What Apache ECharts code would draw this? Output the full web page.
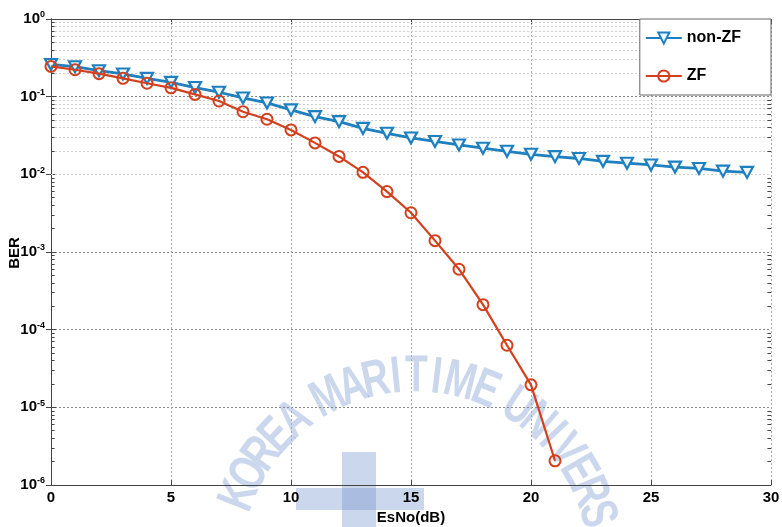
<!DOCTYPE html>
<html>
<head>
<meta charset="utf-8">
<script src="https://cdn.jsdelivr.net/npm/echarts@6/dist/echarts.min.js"></script>
<style>html,body{margin:0;padding:0;background:#fff;}#c{width:782px;height:527px;}</style>
</head>
<body>
<div id="c"></div>
<script>
// ---- data ----
var esnoNonZF = [0,1,2,3,4,5,6,7,8,9,10,11,12,13,14,15,16,17,18,19,20,21,22,23,24,25,26,27,28,29];
var berNonZF = [0.26,0.243,0.216,0.196,0.172,0.153,0.131,0.114,0.0962,0.083,0.0675,0.0553,0.0477,0.0390,0.0338,0.0294,0.0265,0.0239,0.0217,0.0198,0.0181,0.0169,0.0160,0.0147,0.0139,0.0132,0.0124,0.0119,0.0110,0.0106];
var esnoZF = [0,1,2,3,4,5,6,7,8,9,10,11,12,13,14,15,16,17,18,19,20,21];
var berZF = [0.245,0.222,0.198,0.172,0.149,0.130,0.107,0.088,0.064,0.0512,0.0373,0.0254,0.0170,0.0106,0.0060,0.0032,0.00140,0.00060,0.00021,6.3e-5,1.95e-5,2.05e-6];
var xTicks = [0,5,10,15,20,25,30];
var yDecades = [-6,-5,-4,-3,-2,-1,0];
var seriesNames = ['non-ZF','ZF'];
var xTitle = 'EsNo(dB)';
var yTitle = 'BER';
var watermark = 'KOREA MARITIME UNIVERSITY';

var BLUE = '#1f80c0', RED = '#d2401e';
var FONT = '"Liberation Sans Narrow","Liberation Sans",Arial,sans-serif';
var WMC = 'rgba(110,145,205,0.36)';

function pairs(xs, ys){ return xs.map(function(x,i){ return [x, ys[i]]; }); }

// minor log grid lines (2..9 within each decade)
var minorLines = [], minorTicks = [];
for (var d = -6; d < 0; d++) {
  for (var m = 2; m <= 9; m++) {
    var v = m * Math.pow(10, d);
    minorLines.push({yAxis: v});
    minorTicks.push([{coord:[0, v]}, {coord:[0.15, v]}]);
    minorTicks.push([{coord:[29.85, v]}, {coord:[30, v]}]);
  }
}

// watermark letters along an arc
var wm = [];
var cx = 415, cy = 565, R = 188;
var chars = watermark.split('');
var widthOf = function(c){ return c === 'I' ? 2.6 : (c === 'M' ? 4.6 : 3.6); };
var ang = -72;
for (var i = 0; i < chars.length; i++) {
  var ch = chars[i];
  if (ch === ' ') { ang += 4; continue; }
  var w = widthOf(ch);
  ang += w;
  var a = ang * Math.PI / 180;
  wm.push({
    type: 'text', silent: true, z: -10,
    x: cx + R * Math.sin(a), y: cy - R * Math.cos(a),
    rotation: -a, scaleX: 0.72,
    style: {text: ch, font: 'bold 52px ' + FONT, fill: WMC, align: 'center', verticalAlign: 'middle'}
  });
  ang += w;
}
// logo shape (faint)
wm.push({type:'rect', silent:true, z:-10, shape:{x:342,y:452,width:34,height:80}, style:{fill:WMC}});
wm.push({type:'rect', silent:true, z:-10, shape:{x:296,y:488,width:128,height:22}, style:{fill:WMC}});
// rotated y-axis title
wm.push({
  type: 'text', silent: true, z: 10, x: 15, y: 253, rotation: Math.PI / 2,
  style: {text: yTitle, font: 'bold 15px ' + FONT, fill: '#000', align: 'center', verticalAlign: 'middle'}
});

var yLabel = {
  show: true, margin: 6,
  formatter: function(v){ var e = Math.round(Math.log10(v)); return '{b|10}{s|' + e + '}'; },
  rich: {
    b: {fontFamily: FONT, fontWeight: 'bold', fontSize: 15, color: '#000'},
    s: {fontFamily: FONT, fontWeight: 'bold', fontSize: 9, color: '#000', verticalAlign: 'top', padding: [0,0,8,0]}
  }
};

var chart = echarts.init(document.getElementById('c'), null, {renderer: 'canvas'});
chart.setOption({
  animation: false,
  backgroundColor: '#fff',
  graphic: wm,
  grid: {left: 51, right: 11, top: 19, bottom: 42, containLabel: false, outerBoundsMode: 'none'},
  legend: {
    data: seriesNames, orient: 'vertical', right: 11, top: 19,
    itemWidth: 36, itemHeight: 14, itemGap: 22,
    padding: [11, 30, 11, 5],
    backgroundColor: '#fff', borderColor: '#666', borderWidth: 1,
    textStyle: {fontFamily: FONT, fontWeight: 'bold', fontSize: 16, color: '#000'},
    z: 20
  },
  xAxis: [{
    type: 'value', min: 0, max: 30, interval: 5,
    name: xTitle, nameLocation: 'middle', nameGap: 23,
    nameTextStyle: {fontFamily: FONT, fontWeight: 'bold', fontSize: 15, color: '#000'},
    axisLine: {show: true, lineStyle: {color: '#444', width: 1}},
    axisTick: {show: true, inside: true, length: 5, lineStyle: {color: '#444'}},
    axisLabel: {show: true, margin: 5, fontFamily: FONT, fontWeight: 'bold', fontSize: 15, color: '#000',
      formatter: function(v){ return xTicks.indexOf(v) >= 0 ? String(v) : ''; }},
    splitLine: {show: true, lineStyle: {color: '#aaa', type: [2,2], width: 1}}
  }, {
    type: 'value', min: 0, max: 30, interval: 5, position: 'top',
    axisLine: {show: true, lineStyle: {color: '#444', width: 1}},
    axisTick: {show: true, inside: true, length: 5, lineStyle: {color: '#444'}},
    axisLabel: {show: false}, splitLine: {show: false}
  }],
  yAxis: [{
    type: 'log', logBase: 10, min: 1e-6, max: 1,
    axisLine: {show: true, lineStyle: {color: '#444', width: 1}},
    axisTick: {show: true, inside: true, length: 5, lineStyle: {color: '#444'}},
    axisLabel: yLabel,
    splitLine: {show: true, lineStyle: {color: '#888', type: [2,2], width: 1}}
  }, {
    type: 'log', logBase: 10, min: 1e-6, max: 1, position: 'right',
    axisLine: {show: true, lineStyle: {color: '#444', width: 1}},
    axisTick: {show: true, inside: true, length: 5, lineStyle: {color: '#444'}},
    axisLabel: {show: false}, splitLine: {show: false}
  }],
  series: [{
    name: 'grid-minor', type: 'line', data: [], silent: true,
    markLine: {silent: true, symbol: ['none','none'], label: {show: false},
      lineStyle: {color: '#cfcfcf', type: [2,2], width: 1}, data: minorLines, animation: false},
    z: 1
  }, {
    name: 'grid-minor-ticks', type: 'line', data: [], silent: true,
    markLine: {silent: true, symbol: ['none','none'], label: {show: false},
      lineStyle: {color: '#444', type: 'solid', width: 1}, data: minorTicks, animation: false},
    z: 1
  }, {
    name: seriesNames[0], type: 'line', data: pairs(esnoNonZF, berNonZF),
    color: BLUE,
    lineStyle: {color: BLUE, width: 2.8},
    symbol: 'triangle', symbolRotate: 180, symbolSize: [12, 11], showAllSymbol: true,
    itemStyle: {color: '#eef6fc', borderColor: BLUE, borderWidth: 2.2},
    z: 5
  }, {
    name: seriesNames[1], type: 'line', data: pairs(esnoZF, berZF),
    color: RED,
    lineStyle: {color: RED, width: 2.2},
    symbol: 'circle', symbolSize: 11, showAllSymbol: true,
    itemStyle: {color: 'rgba(255,255,255,0)', borderColor: RED, borderWidth: 2},
    z: 6
  }]
});
</script>
</body>
</html>
